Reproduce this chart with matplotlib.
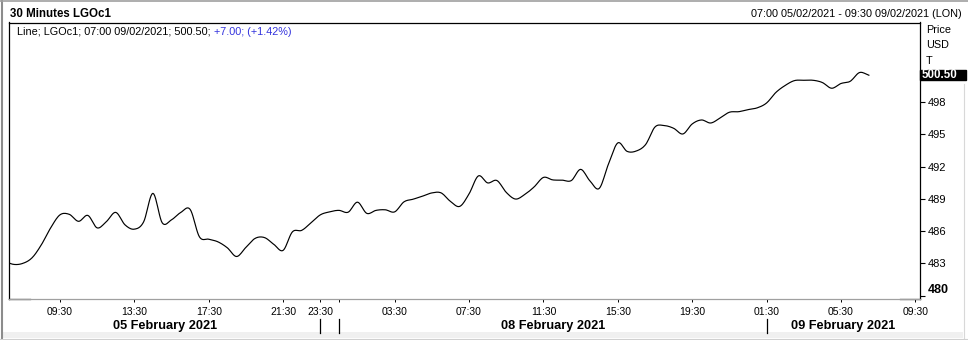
import numpy as np
import pandas as pd
import matplotlib
matplotlib.use("Agg")
import matplotlib.pyplot as plt
from matplotlib import transforms
from matplotlib.lines import Line2D
from matplotlib.patches import Rectangle

plt.rcParams['font.family'] = ['Liberation Sans', 'DejaVu Sans']

# 30 minute bars (ICE gasoil session: weekend and overnight gaps are skipped)
bar_times = pd.DatetimeIndex(
    list(pd.date_range("2021-02-05 06:30", "2021-02-05 22:30", freq="30min"))
    + list(pd.date_range("2021-02-07 23:00", "2021-02-07 23:30", freq="30min"))
    + list(pd.date_range("2021-02-08 00:00", "2021-02-08 22:30", freq="30min"))
    + list(pd.date_range("2021-02-09 01:00", "2021-02-09 09:30", freq="30min"))
)

# closing prices, 06:30 05/02 to 07:00 09/02 (USD/T)
prices = [483.25, 482.92, 483.01, 483.53, 484.74, 486.31, 487.52, 487.57, 486.92, 487.47,
          486.31, 486.90, 487.75, 486.59, 486.19, 486.87, 489.52, 486.78, 487.06, 487.75,
          488.03, 485.48, 485.26, 485.01, 484.46, 483.65, 484.50, 485.34, 485.41, 484.78,
          484.22, 485.94, 486.08, 486.78, 487.52, 487.80, 487.94, 487.77, 488.70, 487.66,
          487.94, 487.99, 487.80, 488.73, 488.98, 489.26, 489.56, 489.56, 488.77, 488.31,
          489.47, 491.14, 490.49, 490.71, 489.61, 488.99, 489.42, 490.12, 491.00, 490.77,
          490.75, 490.71, 491.75, 490.68, 489.98, 492.26, 494.21, 493.42, 493.46, 494.07,
          495.69, 495.82, 495.57, 495.04, 495.97, 496.34, 496.06, 496.53, 497.06, 497.11,
          497.30, 497.47, 497.92, 498.90, 499.55, 500.00, 500.03, 500.03, 499.82, 499.29,
          499.73, 499.94, 500.75, 500.50]

tick_times = ["2021-02-05 09:30", "2021-02-05 13:30", "2021-02-05 17:30", "2021-02-05 21:30",
              "2021-02-07 23:30", "2021-02-08 03:30", "2021-02-08 07:30", "2021-02-08 11:30",
              "2021-02-08 15:30", "2021-02-08 19:30", "2021-02-09 01:30", "2021-02-09 05:30",
              "2021-02-09 09:30"]
day_names = ["05 February 2021", "", "08 February 2021", "09 February 2021"]
y_ticks = [480, 483, 486, 489, 492, 495, 498]
last_price = 500.50
change = "+7.00; (+1.42%)"

# bar positions: first bar (06:30) sits just left of the frame
pos = np.arange(len(bar_times)) - 1
time_pos = pd.Series(pos, index=bar_times)


def catmull_rom(x, y, n=10):
    # smooth line through the closes, like the terminal draws it
    y = np.asarray(y, float)
    yp = np.concatenate([[2 * y[0] - y[1]], y, [2 * y[-1] - y[-2]]])
    t = np.linspace(0, 1, n, endpoint=False)
    xs, ys = [], []
    for i in range(len(y) - 1):
        p0, p1, p2, p3 = yp[i], yp[i + 1], yp[i + 2], yp[i + 3]
        ys.append(0.5 * (2 * p1 + (-p0 + p2) * t + (2 * p0 - 5 * p1 + 4 * p2 - p3) * t ** 2
                         + (-p0 + 3 * p1 - 3 * p2 + p3) * t ** 3))
        xs.append(x[i] + (x[i + 1] - x[i]) * t)
    xs.append([x[-1]])
    ys.append([y[-1]])
    return np.concatenate(xs), np.concatenate(ys)


W, H = 968, 340
fig = plt.figure(figsize=(W / 100, H / 100), dpi=100)
fig.patch.set_facecolor('white')

# window frame (drawn first, under everything else)
fig.add_artist(Rectangle((2 / W, 1 - 338 / H), 961 / W, 6 / H, transform=fig.transFigure,
                         color='#f0f0f0', lw=0, zorder=0))
fig.add_artist(Line2D([1.5 / W, 1.5 / W], [0, 1], transform=fig.transFigure,
                      color='#8c8c8c', lw=1.5, zorder=0))
fig.add_artist(Line2D([0, 1], [1 - 0.7 / H, 1 - 0.7 / H], transform=fig.transFigure,
                      color='#a0a0a0', lw=1.2, zorder=0))
fig.add_artist(Line2D([963.5 / W, 963.5 / W], [1 - 338 / H, 1 - 84 / H], transform=fig.transFigure,
                      color='#d8d8d8', lw=0.8, zorder=0))
fig.add_artist(Line2D([0, 1], [1 - 338.5 / H, 1 - 338.5 / H], transform=fig.transFigure,
                      color='#d0d0d0', lw=0.8, zorder=0))

ax = fig.add_axes([9 / W, 1 - 299 / H, 911 / W, 276.5 / H])
ax.patch.set_alpha(0)
xs, ys = catmull_rom(pos[:len(prices)], prices)
ax.plot(xs, ys, color='black', lw=0.85)

ax.set_xlim(-0.48, 97.5)
ax.set_ylim(479.7, 505.4)

for s in ['left', 'top', 'right']:
    ax.spines[s].set_color('black')
    ax.spines[s].set_linewidth(0.9)
ax.spines['bottom'].set_color('#a0a0a0')
ax.spines['bottom'].set_linewidth(0.9)
# short black pieces at the ends of the bottom edge
ax.plot([0, 0.023], [0, 0], transform=ax.transAxes, color='black', lw=0.9, clip_on=False)
ax.plot([0.978, 1], [0, 0], transform=ax.transAxes, color='black', lw=0.9, clip_on=False)

# y axis on the right
ax.yaxis.tick_right()
ax.set_yticks(y_ticks, [str(v) for v in y_ticks])
ax.tick_params(axis='y', direction='out', length=3.6, width=0.8, pad=2, labelsize=8)
lab480 = ax.get_yticklabels()[0]
lab480.set_fontweight('bold')
lab480.set_fontsize(9)
lab480.set_va('bottom')

# day boundaries (drawn one bar into the new day, as on the terminal)
day_first = [time_pos[bar_times.normalize() == d].iloc[0] for d in bar_times.normalize().unique()]
separators = [p + 1 for p in day_first[1:]]

tick_pos = [time_pos[pd.Timestamp(t)] for t in tick_times]
tick_lab = [pd.Timestamp(t).strftime("%H:%M") for t in tick_times]
all_pos = tick_pos + [s for s in separators if s not in tick_pos]
all_lab = tick_lab + ['' for s in separators if s not in tick_pos]
ax.set_xticks(all_pos, all_lab)
ax.tick_params(axis='x', direction='out', length=2.5, width=0.7, pad=3, labelsize=7.5)

# date row
xfig = transforms.blended_transform_factory(ax.transData, fig.transFigure)
bounds = [ax.get_xlim()[0]] + separators + [ax.get_xlim()[1]]
for i, name in enumerate(day_names):
    if name:
        ax.text((bounds[i] + bounds[i + 1]) / 2, 1 - 329.5 / H, name, transform=xfig,
                ha='center', va='baseline', fontsize=9.2, fontweight='bold')
for s in separators:
    ax.add_line(Line2D([s, s], [1 - 319 / H, 1 - 333 / H], transform=xfig,
                       color='black', lw=0.9, clip_on=False))

# last price box
yx = transforms.blended_transform_factory(ax.transAxes, ax.transData)
ax.add_patch(Rectangle((1.0, last_price - 0.45), 0.0505, 0.96, transform=yx,
                       color='black', clip_on=False, zorder=5))
ax.text(1.002, last_price + 0.03, f"{last_price:.2f}", transform=yx, ha='left', va='center',
        color='white', fontsize=8.3, fontweight='bold', zorder=6)

# header and unit texts
fig.text(10 / W, 1 - 17 / H, "30 Minutes LGOc1", fontsize=8.3, fontweight='bold', va='baseline')
fig.text(962 / W, 1 - 17 / H, "07:00 05/02/2021 - 09:30 09/02/2021 (LON)", fontsize=7.8,
         ha='right', va='baseline')
for txt, yb in [("Price", 33), ("USD", 48.3), ("T", 64.3)]:
    fig.text(926 / W, 1 - yb / H, txt, fontsize=7.8, va='baseline')

t1 = fig.text(17 / W, 1 - 35 / H, f"Line; LGOc1; 07:00 09/02/2021; {last_price:.2f}; ",
              fontsize=7.8, va='baseline')
fig.canvas.draw()
bb = t1.get_window_extent(fig.canvas.get_renderer())
fig.text(bb.x1 / fig.bbox.width, 1 - 35 / H, change, fontsize=7.8, va='baseline', color='#3333dd')

fig.savefig("out.png", dpi=100)
